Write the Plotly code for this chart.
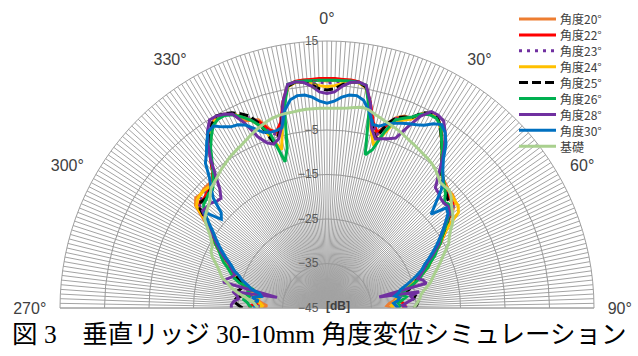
import plotly.graph_objects as go

# |angle| in degrees (0..90), left side = 270..360, right side = 0..90
ANG = list(range(0, 92, 2))

NAMES = ["角度20°", "角度22°", "角度23°", "角度24°", "角度25°", "角度26°", "角度28°", "角度30°", "基礎"]
COLORS = ["#ED7D31", "#FF0000", "#7030A0", "#FFC000", "#000000", "#00B050", "#7030A0", "#0070C0", "#A9D08E"]
DASHES = ["solid", "solid", "3px,5px", "solid", "9px,4px", "solid", "solid", "solid", "solid"]

a20_L = [6.0, 6.2, 6.3, 6.4, 6.4, 5.7, 2.3, -2.5, -4.5, -2.5, 0.0, 0.5, 1.0, 3.5, 4.3, 4.6, 3.8, 1.8, 0.0, -2.6, -5.0, -6.5, -6.5, -6.5, -6.8, -6.5, -7.5, -10.5, -13.0, -14.5, -16.0, -17.5, -19.0, -20.0, -21.0, -22.5, -24.0, -25.5, -26.5, -27.5, -28.0, -29.0, -29.5, -30.5, -31.5, -30.5]
a20_R = [6.0, 6.2, 6.3, 6.4, 6.3, 5.6, 2.0, -2.5, -4.8, -1.5, 0.5, 1.5, 1.5, 3.5, 4.4, 4.6, 3.2, 1.2, -0.8, -3.0, -5.0, -6.0, -6.5, -7.0, -7.0, -7.5, -9.0, -11.0, -12.5, -14.0, -15.5, -17.0, -18.5, -19.5, -20.5, -22.0, -23.5, -25.0, -26.5, -27.5, -28.0, -29.0, -30.0, -31.0, -31.5, -30.0]

a22_L = [6.6, 6.6, 6.5, 6.5, 6.4, 5.8, 2.5, -2.0, -3.8, -3.0, -0.5, 0.5, 2.0, 3.5, 4.2, 4.5, 3.8, 1.8, 0.0, -2.5, -5.0, -6.5, -7.0, -7.5, -8.0, -7.8, -8.5, -11.0, -13.0, -14.5, -16.0, -17.5, -19.0, -20.0, -21.5, -22.5, -23.5, -25.0, -26.0, -27.5, -28.0, -28.5, -29.0, -29.5, -28.0, -27.5]
a22_R = [6.6, 6.6, 6.5, 6.5, 6.3, 5.5, 2.0, -2.0, -4.0, -2.0, 0.2, 1.0, 1.8, 3.5, 4.4, 4.5, 3.0, 1.0, -1.0, -3.0, -5.0, -6.0, -7.0, -7.5, -8.0, -8.2, -9.5, -11.5, -12.5, -14.0, -15.5, -17.0, -18.5, -19.5, -21.0, -22.0, -23.5, -24.5, -26.0, -27.0, -28.5, -29.0, -29.0, -28.0, -27.5, -28.0]

a23_L = [5.5, 5.8, 6.1, 6.3, 6.3, 5.6, 2.2, -2.3, -4.5, -3.5, -0.5, 1.0, 2.2, 3.6, 4.3, 4.6, 3.8, 1.8, 0.0, -2.6, -5.0, -6.8, -7.0, -7.0, -7.2, -7.5, -8.8, -11.5, -13.2, -14.8, -16.2, -17.8, -19.2, -20.5, -21.8, -22.8, -24.0, -25.2, -26.2, -27.0, -27.5, -28.0, -28.5, -29.5, -30.0, -29.5]
a23_R = [5.5, 5.8, 6.1, 6.3, 6.2, 5.5, 1.8, -2.5, -4.5, -2.0, 0.3, 1.2, 1.8, 3.5, 4.4, 4.6, 3.1, 1.1, -0.9, -3.0, -5.0, -6.1, -6.8, -7.2, -7.5, -7.8, -9.2, -11.2, -12.8, -14.2, -15.8, -17.2, -18.8, -19.8, -21.0, -22.2, -23.5, -24.8, -26.0, -27.2, -28.0, -28.8, -29.5, -30.0, -29.5, -29.0]

a24_L = [4.7, 5.0, 5.6, 6.1, 6.2, 5.5, 1.8, -3.5, -8.0, -5.0, -1.5, 0.5, 2.0, 3.5, 4.2, 4.5, 3.6, 1.6, -0.3, -2.8, -5.2, -6.8, -7.0, -6.8, -6.8, -7.0, -7.8, -11.0, -13.0, -14.5, -16.0, -17.5, -19.0, -20.5, -21.5, -23.0, -24.5, -25.5, -26.5, -27.5, -28.5, -29.5, -29.0, -30.0, -30.5, -30.0]
a24_R = [4.7, 5.0, 5.6, 6.1, 6.1, 5.3, 1.5, -4.0, -7.0, -4.0, -0.5, 0.5, 1.5, 3.5, 4.3, 4.5, 3.0, 1.0, -1.0, -3.0, -5.0, -6.2, -6.8, -7.0, -7.2, -7.5, -7.6, -8.5, -12.0, -14.0, -15.5, -17.0, -18.5, -19.5, -20.5, -22.0, -23.5, -25.0, -26.0, -27.5, -28.5, -29.0, -29.5, -30.0, -30.5, -30.0]

a25_L = [4.0, 4.3, 5.3, 6.1, 6.3, 5.6, 2.0, -2.5, -5.0, -5.7, -1.0, 1.5, 2.8, 3.8, 4.4, 4.8, 3.8, 1.8, -0.2, -2.8, -5.2, -7.0, -7.5, -8.0, -8.3, -8.0, -8.8, -11.5, -13.5, -15.0, -16.5, -18.0, -19.5, -21.0, -22.0, -23.0, -24.0, -25.0, -25.5, -25.0, -24.2, -25.5, -24.5, -24.0, -25.0, -26.0]
a25_R = [4.0, 4.3, 5.3, 6.1, 6.3, 5.4, 1.5, -3.0, -5.4, -1.5, 0.5, 1.3, 1.8, 3.8, 4.6, 4.6, 3.0, 1.0, -1.0, -3.0, -5.0, -6.2, -7.0, -7.8, -8.5, -8.5, -9.5, -11.5, -13.0, -14.5, -16.0, -17.5, -19.0, -20.5, -21.5, -22.5, -23.5, -24.5, -25.5, -26.5, -26.0, -25.0, -25.5, -24.5, -24.8, -25.5]

a26_L = [6.2, 6.2, 6.2, 6.3, 6.3, 6.0, 1.0, -8.0, -10.8, -4.0, -1.5, 0.5, 2.0, 3.3, 4.0, 4.0, 3.3, 1.5, -0.5, -3.0, -5.2, -6.8, -8.0, -8.0, -8.5, -8.8, -10.0, -12.0, -13.5, -15.0, -16.0, -17.5, -18.5, -19.5, -21.0, -22.0, -23.0, -24.5, -28.0, -27.0, -26.5, -27.5, -26.0, -27.0, -27.5, -28.0]
a26_R = [6.2, 6.2, 6.2, 6.3, 6.2, 5.8, 0.5, -9.5, -8.0, -3.5, 0.0, 1.0, 2.0, 3.5, 4.2, 4.2, 3.2, 1.0, -1.0, -3.0, -4.8, -6.0, -7.0, -8.0, -9.5, -9.0, -10.0, -11.5, -13.0, -14.5, -15.5, -17.0, -18.0, -19.5, -20.5, -22.0, -23.0, -24.5, -26.0, -27.5, -28.0, -27.0, -28.0, -29.0, -28.5, -29.0]

a28_L = [3.2, 3.6, 5.0, 6.0, 6.3, 6.0, 2.5, -3.0, -5.5, -6.3, -5.5, -3.5, 0.5, 3.5, 4.3, 4.8, 4.8, 3.0, 0.5, -2.5, -6.0, -9.0, -10.7, -10.5, -9.8, -9.7, -9.5, -11.5, -13.5, -15.0, -16.5, -18.0, -19.5, -21.0, -22.0, -23.0, -22.5, -21.5, -21.0, -33.5, -23.5, -24.5, -25.0, -24.0, -23.5, -23.5]
a28_R = [3.2, 3.6, 5.0, 6.0, 6.3, 5.8, 2.0, -3.5, -5.5, -5.0, -4.5, -3.8, -0.5, 3.0, 5.0, 5.0, 4.5, 2.5, 0.0, -3.0, -6.0, -8.6, -9.0, -9.5, -9.7, -9.5, -10.0, -12.0, -13.5, -15.0, -16.0, -17.5, -19.0, -20.5, -21.5, -22.5, -23.5, -22.5, -22.0, -33.0, -24.0, -26.0, -25.5, -27.0, -28.0, -27.0]

a30_L = [1.0, 1.5, 2.5, 3.1, 3.2, 2.5, 0.5, -3.2, -3.6, -3.5, -3.0, -1.5, 0.0, 0.8, 1.1, 2.0, 3.2, 2.8, 1.0, -1.0, -2.5, -5.5, -7.5, -9.5, -13.0, -14.0, -10.0, -12.0, -14.0, -15.5, -17.0, -18.5, -20.0, -21.5, -22.5, -24.0, -25.0, -26.5, -27.5, -29.5, -30.0, -28.0, -29.5, -28.5, -29.0, -28.5]
a30_R = [1.0, 1.5, 2.5, 3.1, 3.2, 2.4, 0.3, -2.5, -2.5, -1.5, -0.8, -0.2, 0.3, 0.8, 1.5, 2.8, 3.6, 2.5, 0.5, -2.5, -4.5, -6.0, -8.0, -11.0, -13.5, -10.0, -10.5, -12.0, -13.5, -15.0, -16.5, -18.0, -19.5, -21.0, -22.0, -23.5, -25.0, -26.5, -28.0, -28.5, -29.5, -28.5, -29.0, -30.0, -29.5, -29.0]

base_L = [-0.1, -0.1, -0.1, -0.1, -0.2, -0.3, -0.3, -0.4, -0.6, -1.0, -1.5, -2.0, -2.6, -3.2, -3.7, -4.1, -4.5, -5.0, -5.5, -6.0, -6.6, -7.1, -7.5, -8.5, -9.5, -10.0, -10.5, -11.0, -12.5, -14.0, -15.0, -15.8, -16.0, -16.8, -18.0, -19.0, -19.8, -20.5, -22.0, -23.0, -24.5, -26.0, -27.5, -28.5, -29.0, -29.5]
base_R = [-0.1, -0.1, 0.0, 0.2, 0.5, 0.8, 0.5, -0.2, -0.7, -1.2, -1.6, -2.0, -2.5, -3.0, -3.4, -3.8, -4.2, -4.5, -4.9, -5.5, -6.2, -7.0, -7.0, -6.8, -7.5, -8.5, -9.3, -10.0, -11.0, -12.3, -13.3, -14.0, -15.3, -16.5, -17.5, -18.5, -19.5, -20.3, -21.0, -22.0, -23.0, -23.7, -24.0, -24.5, -25.0, -25.5]

SERIES = [(a20_L, a20_R), (a22_L, a22_R), (a23_L, a23_R), (a24_L, a24_R), (a25_L, a25_R),
          (a26_L, a26_R), (a28_L, a28_R), (a30_L, a30_R), (base_L, base_R)]

R_TICKS = [-45, -35, -25, -15, -5, 5, 15]
ANG_LABELED = [0, 30, 60, 90, -90, -60, -30]
CAPTION = "図 3　垂直リッジ 30-10mm 角度変位シミュレーション"

theta = [-a for a in ANG[:0:-1]] + ANG

fig = go.Figure()
for name, color, dash, (L, R) in zip(NAMES, COLORS, DASHES, SERIES):
    fig.add_trace(go.Scatterpolar(
        r=L[:0:-1] + R, theta=theta, mode="lines", name=name,
        line=dict(color=color, width=3, dash=dash), showlegend=False))

tickvals = list(range(-90, 91))
ticktext = [f"{v % 360}°" if v in ANG_LABELED else "" for v in tickvals]

# manual legend (compact spacing like the original)
shapes, annos = [], []
leg_x0, leg_x1, leg_tx = 519 / 638, 556 / 638, 559 / 638
for i, (name, color, dash) in enumerate(zip(NAMES, COLORS, DASHES)):
    yy = 1 - (19 + i * 15.9) / 356
    shapes.append(dict(type="line", xref="paper", yref="paper", x0=leg_x0, x1=leg_x1, y0=yy, y1=yy,
                       line=dict(color=color, width=3, dash=dash)))
    annos.append(dict(text=name, xref="paper", yref="paper", x=leg_tx, y=yy, xanchor="left",
                      yanchor="middle", showarrow=False, height=13, borderpad=0,
                      font=dict(size=12, color="#404040", family="Noto Sans CJK JP")))

annos.append(dict(text="<b>[dB]</b>", xref="paper", yref="paper", x=338 / 638, y=1 - 306 / 356,
                  xanchor="center", yanchor="middle", showarrow=False,
                  font=dict(size=12, color="#404040", family="Liberation Sans")))
annos.append(dict(text=CAPTION, xref="paper", yref="paper", x=0.5, y=1 - 334 / 356,
                  xanchor="center", yanchor="middle", showarrow=False,
                  font=dict(size=25.5, color="#000000", family="Liberation Serif, Noto Sans CJK JP")))

fig.update_layout(
    width=638, height=356, margin=dict(l=0, r=0, t=0, b=0),
    paper_bgcolor="white", showlegend=False,
    polar=dict(
        domain=dict(x=[60 / 638, 594 / 638], y=[48 / 356, 315 / 356]),
        sector=[0, 180], bgcolor="white",
        angularaxis=dict(rotation=90, direction="clockwise", tickmode="array",
                         tickvals=tickvals, ticktext=ticktext,
                         showgrid=True, gridcolor="#a3a3a3", gridwidth=1,
                         showline=True, linecolor="#a0a0a0", linewidth=1,
                         ticks="outside", ticklen=10, tickcolor="rgba(0,0,0,0)",
                         tickfont=dict(size=16, color="#404040", family="Liberation Sans")),
        radialaxis=dict(range=[-45, 15], tickmode="array", tickvals=R_TICKS, angle=90,
                        side="counterclockwise", showline=False,
                        ticks="outside", ticklen=4, tickcolor="rgba(0,0,0,0)",
                        gridcolor="#999999", gridwidth=1, tickangle=90,
                        tickfont=dict(size=12, color="#595959", family="Liberation Sans")),
    ),
    shapes=shapes, annotations=annos,
)

fig.write_html("out.html", config={"displayModeBar": False},
               post_script="document.body.style.margin='0px';")
